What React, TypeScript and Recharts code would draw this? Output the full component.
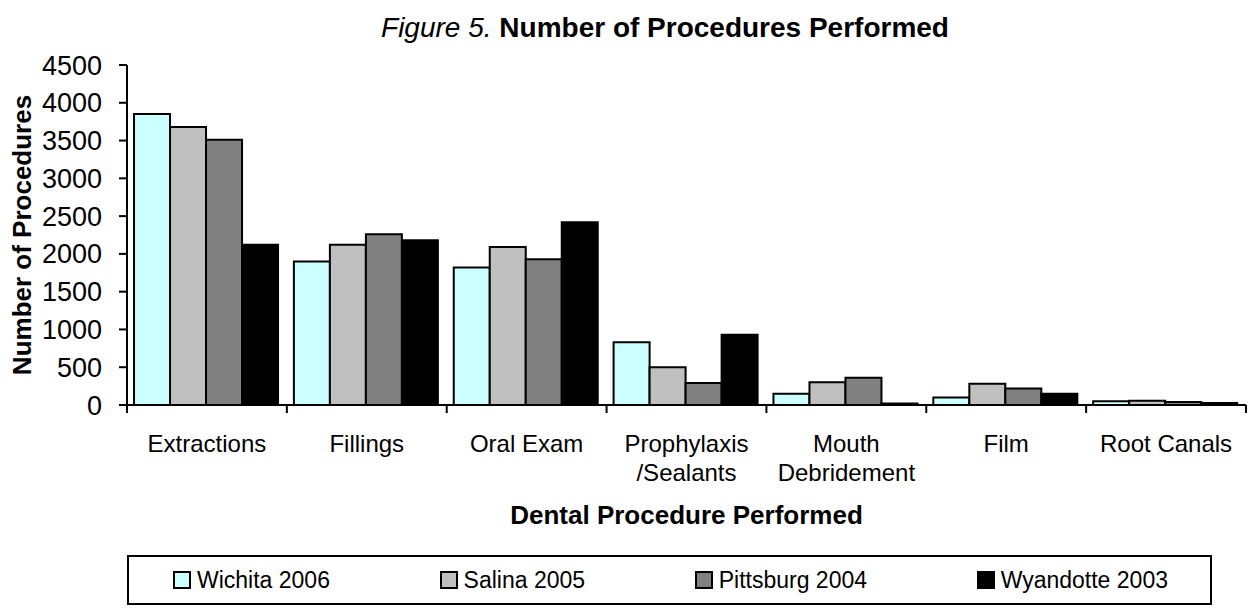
import { BarChart, Bar, XAxis, YAxis, Label } from 'recharts';

// Dental procedures by clinic year
const procedures = [
  'Extractions',
  'Fillings',
  'Oral Exam',
  'Prophylaxis\n/Sealants',
  'Mouth\nDebridement',
  'Film',
  'Root Canals',
];
const wichita2006 = [3850, 1900, 1820, 830, 150, 100, 50];
const salina2005 = [3680, 2120, 2090, 500, 300, 280, 55];
const pittsburg2004 = [3510, 2260, 1930, 290, 360, 220, 40];
const wyandotte2003 = [2120, 2180, 2420, 930, 20, 150, 25];
const yTicks = [0, 500, 1000, 1500, 2000, 2500, 3000, 3500, 4000, 4500];

const seriesDefs = [
  { key: 'wichita', name: 'Wichita 2006', values: wichita2006, color: '#CCFFFF' },
  { key: 'salina', name: 'Salina 2005', values: salina2005, color: '#C0C0C0' },
  { key: 'pittsburg', name: 'Pittsburg 2004', values: pittsburg2004, color: '#808080' },
  { key: 'wyandotte', name: 'Wyandotte 2003', values: wyandotte2003, color: '#000000' },
];

const data = procedures.map((name, i) => {
  const row: Record<string, string | number> = { name };
  seriesDefs.forEach((s) => {
    row[s.key] = s.values[i];
  });
  return row;
});

const FONT = '"Liberation Sans", Arial, sans-serif';

/** X tick: Excel-style tick marks sit on the category boundaries, labels may wrap. */
function CategoryTick(props: any) {
  const { x, y, payload, index, visibleTicksCount } = props;
  const half = payload?.offset ?? 80;
  const lines = String(payload.value).split('\n');
  const isLast = index === (visibleTicksCount ?? procedures.length) - 1;
  return (
    <g>
      <line x1={x - half} x2={x - half} y1={y} y2={y + 8} stroke="#000" strokeWidth={2} />
      {isLast && (
        <line x1={x + half} x2={x + half} y1={y} y2={y + 8} stroke="#000" strokeWidth={2} />
      )}
      <text x={x} y={y + 47} textAnchor="middle" fontSize={24} fill="#000" fontFamily={FONT}>
        {lines.map((line, i) => (
          <tspan key={i} x={x} dy={i === 0 ? 0 : 29}>
            {line}
          </tspan>
        ))}
      </text>
    </g>
  );
}

export default function App() {
  return (
    <div
      style={{
        position: 'absolute',
        left: 0,
        top: 0,
        width: 1249,
        height: 611,
        background: '#fff',
        fontFamily: FONT,
        color: '#000',
      }}
    >
      {/* Chart title — italic figure number, bold caption */}
      <div
        style={{
          position: 'absolute',
          top: 12,
          left: 665,
          transform: 'translateX(-50%)',
          whiteSpace: 'nowrap',
          fontSize: 28,
        }}
      >
        <span style={{ fontStyle: 'italic' }}>Figure 5.</span>{' '}
        <span style={{ fontWeight: 'bold' }}>Number of Procedures Performed</span>
      </div>

      <div style={{ position: 'absolute', left: 0, top: 0 }}>
        <BarChart
          width={1249}
          height={535}
          data={data}
          margin={{ top: 65, right: 3, left: 0, bottom: 0 }}
          barCategoryGap="4.4%"
          barGap={0}
        >
          <XAxis
            dataKey="name"
            interval={0}
            height={130}
            tickLine={false}
            tickSize={0}
            tickMargin={0}
            axisLine={{ stroke: '#000', strokeWidth: 2 }}
            tick={<CategoryTick />}
          >
            <Label
              value="Dental Procedure Performed"
              position="insideTop"
              offset={101}
              style={{ fontSize: 26, fontWeight: 'bold', fill: '#000', fontFamily: FONT }}
            />
          </XAxis>
          <YAxis
            width={127}
            domain={[0, 4500]}
            ticks={yTicks}
            interval={0}
            tickSize={8}
            tickMargin={17}
            tickLine={{ stroke: '#000', strokeWidth: 2 }}
            axisLine={{ stroke: '#000', strokeWidth: 2 }}
            tick={{ fontSize: 27, fill: '#000', fontFamily: FONT }}
          >
            <Label
              value="Number of Procedures"
              angle={-90}
              position="insideLeft"
              offset={22}
              style={{
                fontSize: 26,
                fontWeight: 'bold',
                fill: '#000',
                fontFamily: FONT,
                textAnchor: 'middle',
              }}
            />
          </YAxis>
          {seriesDefs.map((s) => (
            <Bar
              key={s.key}
              dataKey={s.key}
              name={s.name}
              fill={s.color}
              stroke="#000"
              strokeWidth={2}
              isAnimationActive={false}
            />
          ))}
        </BarChart>
      </div>

      {/* Legend box */}
      <div
        style={{
          position: 'absolute',
          left: 127,
          top: 555,
          width: 1085,
          height: 50,
          boxSizing: 'border-box',
          border: '2px solid #000',
          display: 'flex',
          alignItems: 'center',
          justifyContent: 'space-between',
          padding: '0 42px 0 44px',
          fontSize: 23,
        }}
      >
        {seriesDefs.map((s) => (
          <div key={s.key} style={{ display: 'flex', alignItems: 'center' }}>
            <span
              style={{
                display: 'inline-block',
                width: 14,
                height: 14,
                background: s.color,
                border: '2px solid #000',
                marginRight: 6,
              }}
            />
            <span>{s.name}</span>
          </div>
        ))}
      </div>
    </div>
  );
}
